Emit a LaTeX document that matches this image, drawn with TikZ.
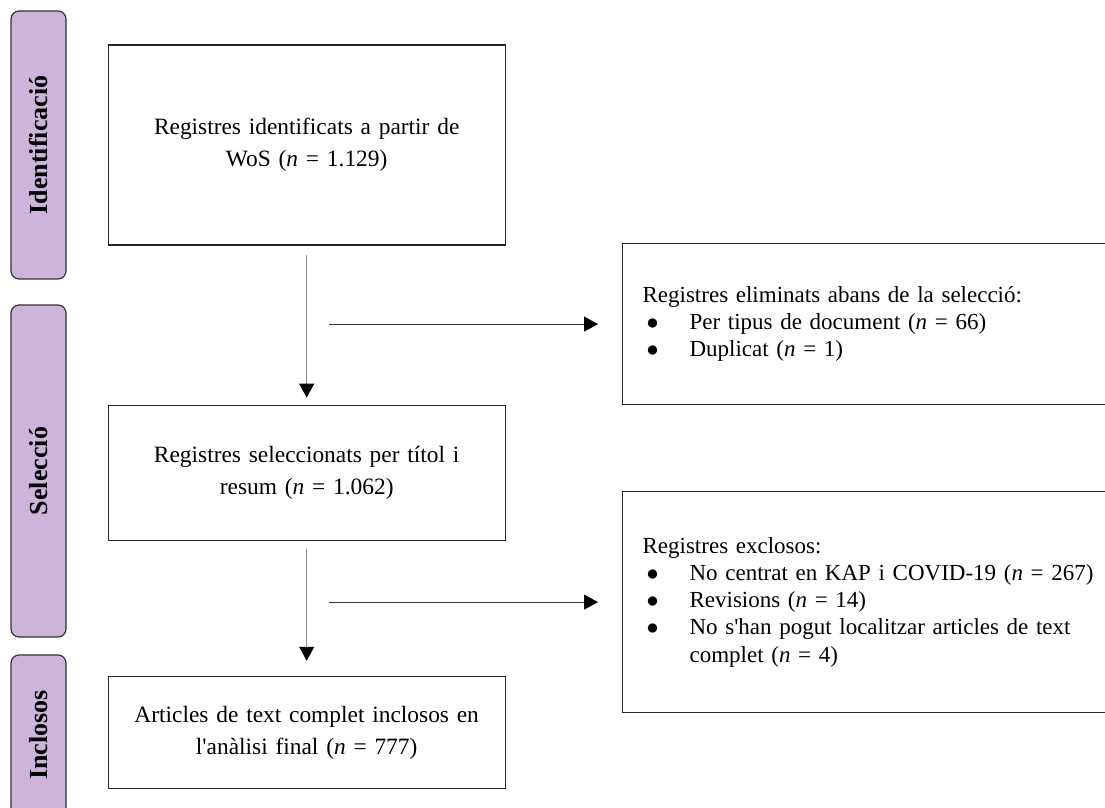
\documentclass[tikz,border=0pt]{standalone}
\usepackage{fontspec}
\usepackage{graphicx}
\setmainfont{Liberation Serif}
\usetikzlibrary{positioning,arrows.meta,calc}
\definecolor{fasecol}{RGB}{204,180,218}
\setlength{\parindent}{0pt}
\newcommand{\punt}[1]{\par\noindent\hspace*{2pt}\makebox[21.5pt][l]{$\bullet$}#1}

\begin{document}
\begin{tikzpicture}[x=0.5pt,y=-0.5pt]
%styles
\tikzstyle{fase}=[draw=black!80, line width=0.6pt, fill=fasecol, rounded corners=4pt, minimum width=27.5pt, inner sep=0pt, font=\fontsize{13}{15}\selectfont\bfseries]
\tikzstyle{caixa}=[draw=black!85, line width=0.6pt, minimum width=198.5pt, text width=190pt, align=center, inner sep=0pt, font=\fontsize{11.7}{16}\selectfont]
\tikzstyle{exclos}=[draw=black!85, line width=0.6pt, anchor=north west, text width=240pt, align=left, inner xsep=10pt, inner ysep=0pt, font=\fontsize{11.5}{13.6}\selectfont]
\tikzstyle{fletxa}=[-{Triangle[width=7.5pt,length=7pt,color=black]}, line width=0.5pt]

\clip (0,0) rectangle (1105,808);

%the phases
\node[fase, minimum height=134pt] (idfase) at (38.5,145) {\rotatebox{90}{Identificació}};
\node[fase, minimum height=166pt] (selfase) at (38.5,471) {\rotatebox{90}{Selecció}};
\node[fase, minimum height=80pt] (incfase) at (38.5,735) {\rotatebox{90}{Inclosos}};

%the flow
\node[caixa, minimum height=100pt, right=20.5pt of idfase] (idbox) {Registres identificats a partir de\\ WoS (\textit{n} = 1.129)};
\node[caixa, minimum height=67.5pt, below=79.5pt of idbox] (selbox) {Registres seleccionats per títol i\\ resum (\textit{n} = 1.062)};
\node[caixa, minimum height=56pt, below=67.5pt of selbox] (incbox) {Articles de text complet inclosos en\\ l\textquotesingle anàlisi final (\textit{n} = 777)};

%the exclusions
\node[exclos, minimum height=80.5pt] (elim) at (622,243) {Registres eliminats abans de la selecció:
  \punt{Per tipus de document (\textit{n} = 66)}
  \punt{Duplicat (\textit{n} = 1)}};
\node[exclos, minimum height=110.5pt] (excl) at (622,491) {Registres exclosos:
  \punt{No centrat en KAP i COVID-19 (\textit{n} = 267)}
  \punt{Revisions (\textit{n} = 14)}
  \punt{No s\textquotesingle han pogut localitzar articles de text}
  \par\hspace*{23.5pt}complet (\textit{n} = 4)};

%arrows
\draw[fletxa, draw=black!45] ([yshift=-4.5pt]idbox.south) -- ([yshift=3.5pt]selbox.north);
\draw[fletxa, draw=black!45] ([yshift=-4pt]selbox.south) -- ([yshift=7.5pt]incbox.north);
\draw[fletxa, draw=black!80] ($(idbox.south |- elim.west)+(22,0)$) -- ($(elim.west)+(-24,0)$);
\draw[fletxa, draw=black!80] ($(selbox.south |- excl.west)+(22,0)$) -- ($(excl.west)+(-24,0)$);

\end{tikzpicture}
\end{document}
